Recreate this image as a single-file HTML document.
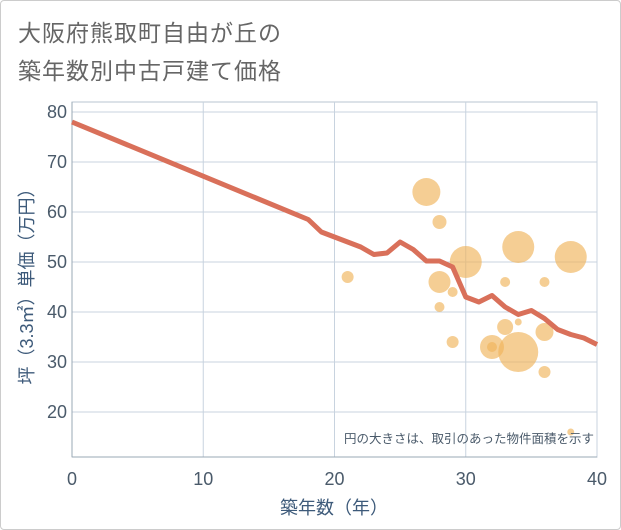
<!DOCTYPE html>
<html><head><meta charset="utf-8"><style>
body{margin:0;background:#fff;font-family:"Liberation Sans","Noto Sans CJK JP",sans-serif;}
#wrap{position:relative;width:619px;height:528px;border:1px solid #ccc;border-radius:4px;}
.title{position:absolute;left:17px;font-size:23px;color:#666;letter-spacing:1px;}
</style></head><body>
<div id="wrap">
<div class="title" style="top:13px">大阪府熊取町自由が丘の</div>
<div class="title" style="top:51px">築年数別中古戸建て価格</div>
<svg id="chart" width="621" height="530" style="position:absolute;left:-1px;top:-1px"></svg>
</div>
<script>
const lineX=[0,18,19,20,21,22,23,24,25,26,27,28,29,30,31,32,33,34,35,36,37,38,39,40];
const lineY=[78,58.5,56,55,54,53,51.5,51.8,54,52.5,50.2,50.2,49,43,42,43.3,41,39.5,40.3,38.7,36.5,35.5,34.8,33.5];
const bubX=[27,28,21,30,34,38,33,36,28,29,28,34,33,36,29,32,32,34,36,38];
const bubY=[64,58,47,50,53,51,46,46,46,44,41,38,37,36,34,33,33,32,28,16];
const bubA=[196,49,36,256,256,256,25,25,121,25,25,12,64,81,36,144,25,400,36,12];
const xTicks=[0,10,20,30,40];
const yTicks=[20,30,40,50,60,70,80];
const NS='http://www.w3.org/2000/svg';
const svg=document.getElementById('chart');
const L=72,R=597,T=102,B=457;
const xs=v=>L+v*(R-L)/40;
const ys=v=>112+(80-v)*5;
function mk(t,a){const e=document.createElementNS(NS,t);for(const k in a)e.setAttribute(k,a[k]);svg.appendChild(e);return e;}
mk('rect',{x:L,y:T,width:R-L,height:B-T,fill:'#fff',stroke:'#b8c4d0'});
xTicks.forEach(v=>{const g=mk('line',{x1:xs(v),x2:xs(v),y1:T,y2:B,stroke:'#c8d3df'});

const t=mk('text',{x:xs(v),y:485,'text-anchor':'middle','font-size':18,fill:'#4a5a6a'});t.textContent=v;
});
yTicks.forEach(v=>{const g=mk('line',{x1:L,x2:R,y1:ys(v),y2:ys(v),stroke:'#c8d3df'});

const t=mk('text',{x:67,y:ys(v)+6,'text-anchor':'end','font-size':18,fill:'#4a5a6a'});t.textContent=v;
});
mk('line',{x1:L,x2:L,y1:T,y2:B,stroke:'#9aa8b6'});
mk('line',{x1:L,x2:R,y1:B,y2:B,stroke:'#9aa8b6'});
bubX.forEach((x,i)=>{const c=mk('circle',{cx:xs(x),cy:ys(bubY[i]),r:Math.sqrt(bubA[i]),fill:'rgba(240,180,90,0.65)'});
});
const p=mk('polyline',{points:lineX.map((x,i)=>xs(x)+','+ys(lineY[i])).join(' '),fill:'none',stroke:'#d9705a','stroke-width':5,'stroke-linejoin':'round'});

const n=mk('text',{x:594,y:443,'text-anchor':'end','font-size':12.5,fill:'#4a5a6a'});n.textContent='円の大きさは、取引のあった物件面積を示す';

const xt=mk('text',{x:334,y:514,'text-anchor':'middle','font-size':18,fill:'#3d5a7a'});xt.textContent='築年数（年）';

const yt=mk('text',{x:0,y:0,'text-anchor':'middle','font-size':18,fill:'#3d5a7a',transform:'translate(33,282) rotate(-90)'});yt.textContent='坪（3.3㎡）単価（万円）';

</script>
</body></html>
